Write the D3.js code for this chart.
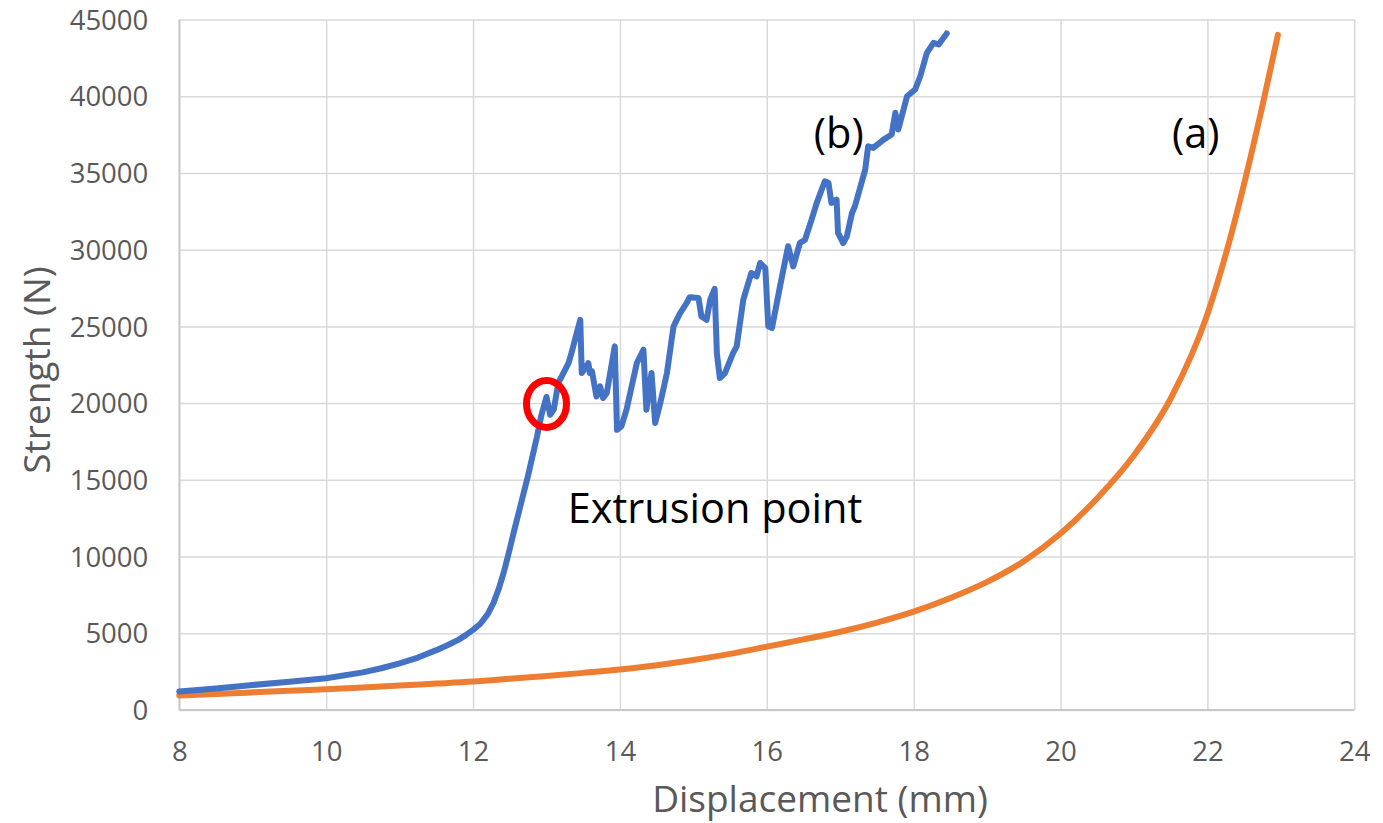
<!DOCTYPE html>
<html>
<head>
<meta charset="utf-8">
<script src="https://cdn.jsdelivr.net/npm/d3@7"></script>
<style>
  html, body { margin: 0; padding: 0; background: #fff; }
  svg { display: block; }
</style>
</head>
<body>
<svg id="chart" width="1383" height="823"></svg>
<script>
// ---- Data ----
const xTicks = [8, 10, 12, 14, 16, 18, 20, 22, 24];
const yTicks = [0, 5000, 10000, 15000, 20000, 25000, 30000, 35000, 40000, 45000];

// (b) blue series: displacement (mm)
const blueX = [8.0, 8.5, 9.0, 9.5, 10.0, 10.5, 10.75, 11.0, 11.25, 11.5, 11.65, 11.8, 11.9, 12.0, 12.1, 12.2, 12.28, 12.35, 12.42, 12.5,
  12.55, 12.65, 12.75, 12.87, 12.93, 13.0,
  13.05, 13.1, 13.16, 13.30, 13.34, 13.46, 13.48, 13.57, 13.59, 13.62, 13.68, 13.73, 13.77, 13.82, 13.93, 13.96, 14.02, 14.09, 14.23, 14.32,
  14.36, 14.43, 14.48, 14.55, 14.64, 14.73, 14.82, 14.91, 14.95, 15.07, 15.11, 15.18, 15.23, 15.29, 15.32, 15.36, 15.43, 15.54, 15.59, 15.68,
  15.79, 15.86, 15.91, 15.98, 16.02, 16.07, 16.18, 16.29, 16.36, 16.45, 16.52, 16.61, 16.68, 16.79, 16.84, 16.88, 16.95, 16.97, 17.04, 17.09,
  17.16, 17.20, 17.34, 17.38, 17.45, 17.59, 17.70, 17.75, 17.79, 17.91, 18.02, 18.09, 18.18, 18.27, 18.34, 18.45];
// (b) blue series: strength (N)
const blueY = [1200, 1400, 1630, 1840, 2070, 2450, 2720, 3040, 3420, 3900, 4220, 4570, 4880, 5220, 5620, 6250, 7000, 7900, 9000, 10500,
  11500, 13400, 15300, 17800, 19200, 20400,
  19240, 19600, 21300, 22600, 23260, 25430, 21960, 22600, 21960, 22060, 20430, 21090, 20330, 20650, 23700, 18260, 18480, 19570, 22610, 23480,
  19570, 21960, 18700, 20020, 21960, 25000, 25870, 26530, 26900, 26850, 25650, 25430, 26740, 27450, 23260, 21630, 21960, 23260, 23700, 26740,
  28480, 28260, 29130, 28800, 25000, 24890, 27610, 30220, 28910, 30430, 30650, 31960, 33050, 34460, 34350, 33050, 33260, 31090, 30430, 30870,
  32390, 32830, 35220, 36740, 36630, 37170, 37500, 38920, 37830, 40000, 40440, 41300, 42830, 43480, 43370, 44090];

// (a) orange series
const orangeX = [8, 8.5, 9, 9.5, 10, 10.5, 11, 11.5, 12, 12.5, 13, 13.5, 14, 14.5, 15, 15.5, 16, 16.5, 17, 17.5, 18, 18.5, 19, 19.5,
  20, 20.5, 21, 21.5, 22, 22.25, 22.5, 22.75, 22.96];
const orangeY = [950, 1050, 1150, 1250, 1350, 1470, 1600, 1720, 1850, 2030, 2220, 2420, 2640, 2920, 3260, 3660, 4130, 4600, 5100, 5700,
  6410, 7300, 8350, 9700, 11500, 13800, 16600, 20300, 25800, 29700, 34300, 39400, 44000];

const seriesLabels = ["(a)", "(b)"];
const annotationText = "Extrusion point";
const xTitle = "Displacement (mm)";
const yTitle = "Strength (N)";

(function () {
  const svg = d3.select("#chart");
  const pL = 179.3, pR = 1354.3, pT = 19.5, pB = 710;
  const x = d3.scaleLinear().domain([8, 24]).range([pL, pR]);
  const y = d3.scaleLinear().domain([0, 45000]).range([pB, pT]);
  const font = "'Open Sans', 'Noto Sans', sans-serif";

  // gridlines
  const gx = svg.append("g")
    .attr("transform", `translate(0,${pB})`)
    .call(d3.axisBottom(x).tickValues(xTicks).tickSize(-(pB - pT)).tickFormat(""));
  gx.select(".domain").remove();
  gx.selectAll(".tick line").attr("stroke", "#d9d9d9").attr("stroke-width", 1.5);

  const gy = svg.append("g")
    .attr("transform", `translate(${pL},0)`)
    .call(d3.axisLeft(y).tickValues(yTicks).tickSize(-(pR - pL)).tickFormat(""));
  gy.select(".domain").remove();
  gy.selectAll(".tick line").attr("stroke", "#d9d9d9").attr("stroke-width", 1.5);

  // axis lines
  svg.append("line").attr("x1", pL).attr("x2", pR).attr("y1", pB).attr("y2", pB)
    .attr("stroke", "#c8c8c8").attr("stroke-width", 1.8);
  svg.append("line").attr("x1", pL).attr("x2", pL).attr("y1", pT).attr("y2", pB)
    .attr("stroke", "#c8c8c8").attr("stroke-width", 1.8);

  // tick labels
  const xl = svg.append("g")
    .attr("transform", `translate(0,${pB})`)
    .call(d3.axisBottom(x).tickValues(xTicks).tickSize(0).tickPadding(0).tickFormat(d3.format("d")));
  xl.select(".domain").remove();
  xl.selectAll("text").attr("dy", null).attr("y", 51).attr("fill", "#595959")
    .style("font-family", font).style("font-size", "27.5px");

  const yl = svg.append("g")
    .attr("transform", `translate(${pL},0)`)
    .call(d3.axisLeft(y).tickValues(yTicks).tickSize(0).tickPadding(0).tickFormat(d3.format("d")));
  yl.select(".domain").remove();
  yl.selectAll("text").attr("x", -31).attr("dy", "0.35em").attr("fill", "#595959")
    .style("font-family", font).style("font-size", "27.5px");

  // axis titles
  svg.append("text").attr("x", 820).attr("y", 812)
    .attr("text-anchor", "middle").attr("fill", "#595959")
    .style("font-family", font).style("font-size", "37px").text(xTitle);
  svg.append("text").attr("transform", `translate(50,370) rotate(-90)`)
    .attr("text-anchor", "middle").attr("fill", "#595959")
    .style("font-family", font).style("font-size", "37px").text(yTitle);

  // lines
  const orangeData = orangeX.map((v, i) => [v, orangeY[i]]);
  const blueData = blueX.map((v, i) => [v, blueY[i]]);

  svg.append("path").datum(orangeData)
    .attr("d", d3.line().x(d => x(d[0])).y(d => y(d[1])).curve(d3.curveMonotoneX))
    .attr("fill", "none").attr("stroke", "#ED7D31").attr("stroke-width", 6)
    .attr("stroke-linecap", "round").attr("stroke-linejoin", "round");

  svg.append("path").datum(blueData)
    .attr("d", d3.line().x(d => x(d[0])).y(d => y(d[1])).curve(d3.curveLinear))
    .attr("fill", "none").attr("stroke", "#4472C4").attr("stroke-width", 6)
    .attr("stroke-linecap", "round").attr("stroke-linejoin", "round");

  // extrusion point marker
  svg.append("ellipse").attr("cx", x(13)).attr("cy", y(19950))
    .attr("rx", 20).attr("ry", 23.5)
    .attr("fill", "none").attr("stroke", "#FF0000").attr("stroke-width", 7);

  // annotations
  const annFont = "41.5px";
  svg.append("text").attr("x", x(16.98)).attr("y", y(36650)).attr("text-anchor", "middle")
    .attr("fill", "#000").style("font-family", font).style("font-size", annFont).text(seriesLabels[1]);
  svg.append("text").attr("x", x(21.84)).attr("y", y(36650)).attr("text-anchor", "middle")
    .attr("fill", "#000").style("font-family", font).style("font-size", annFont).text(seriesLabels[0]);
  svg.append("text").attr("x", x(13.29)).attr("y", y(12200)).attr("text-anchor", "start")
    .attr("fill", "#000").style("font-family", font).style("font-size", annFont).text(annotationText);
})();
</script>
</body>
</html>
